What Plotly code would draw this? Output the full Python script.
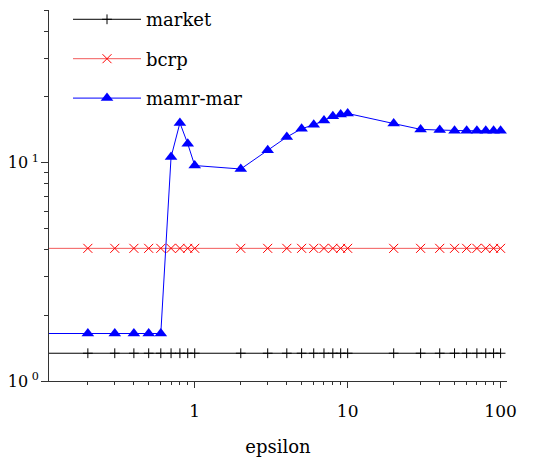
import plotly.graph_objects as go

# epsilon values (0.1 lies just left of the visible axis; its marker is clipped)
epsilon = [0.1, 0.2, 0.3, 0.4, 0.5, 0.6, 0.7, 0.8, 0.9, 1,
           2, 3, 4, 5, 6, 7, 8, 9, 10,
           20, 30, 40, 50, 60, 70, 80, 90, 100]

market = [1.34] * len(epsilon)
bcrp = [4.05] * len(epsilon)
mamr_mar = [1.65, 1.65, 1.65, 1.65, 1.65, 1.65, 10.6, 15.2, 12.2, 9.7,
            9.35, 11.4, 13.1, 14.3, 14.9, 15.6, 16.3, 16.6, 16.8,
            15.1, 14.2, 14.1, 14.0, 14.0, 14.0, 14.0, 14.0, 14.0]

x_major = [1, 10, 100]
x_major_text = ["1", "10", "100"]
x_minor = [0.2, 0.3, 0.4, 0.5, 0.6, 0.7, 0.8, 0.9,
           2, 3, 4, 5, 6, 7, 8, 9, 20, 30, 40, 50, 60, 70, 80, 90]
y_major = [1, 10]
y_major_text = ["10<sup> 0</sup>", "10<sup> 1</sup>"]
y_minor = [2, 3, 4, 5, 6, 7, 8, 9, 20, 30, 40, 50]

FONT = "DejaVu Serif"

fig = go.Figure()
fig.add_trace(go.Scatter(
    x=epsilon, y=market, name="market", mode="lines+markers",
    legendgroup="a",
    line=dict(color="black", width=1),
    marker=dict(symbol="cross-thin", size=7, color="black",
                line=dict(color="black", width=1)),
))
fig.add_trace(go.Scatter(
    x=epsilon, y=bcrp, name="bcrp", mode="lines+markers",
    legendgroup="b",
    line=dict(color="#f25a5a", width=1),
    marker=dict(symbol="x-thin", size=9, color="red",
                line=dict(color="red", width=1)),
))
fig.add_trace(go.Scatter(
    x=epsilon, y=mamr_mar, name="mamr-mar", mode="lines+markers",
    legendgroup="c",
    line=dict(color="#0000ff", width=1),
    marker=dict(symbol="triangle-up", size=11, color="#0000ff",
                line=dict(width=0)),
))

fig.update_layout(
    width=549, height=463,
    margin=dict(l=41, r=50, t=2, b=90, autoexpand=False),
    paper_bgcolor="white", plot_bgcolor="white",
    font=dict(family=FONT, size=17, color="black"),
    showlegend=True,
    legend=dict(x=0.0415, y=1.024, xanchor="left", yanchor="top",
                bgcolor="rgba(0,0,0,0)", font=dict(family=FONT, size=18),
                itemwidth=68, tracegroupgap=13, traceorder="grouped"),
    xaxis=dict(
        type="log", range=[-0.953, 2.042],
        showgrid=False, zeroline=False,
        showline=True, linecolor="#333", linewidth=1,
        tickvals=x_major, ticktext=x_major_text,
        ticks="outside", ticklen=6, tickcolor="#333", tickwidth=1,
        ticklabelstandoff=9,
        minor=dict(tickvals=x_minor, ticks="outside", ticklen=3,
                   tickcolor="#333", tickwidth=1, showgrid=False),
        title=dict(text="epsilon", font=dict(family=FONT, size=18), standoff=19),
        tickfont=dict(family=FONT, size=17),
    ),
    yaxis=dict(
        type="log", range=[0, 1.699],
        showgrid=False, zeroline=False,
        showline=True, linecolor="#333", linewidth=1,
        tickvals=y_major, ticktext=y_major_text,
        ticks="outside", ticklen=7, tickcolor="#333", tickwidth=1,
        ticklabelstandoff=-1,
        minor=dict(tickvals=y_minor, ticks="outside", ticklen=4,
                   tickcolor="#333", tickwidth=1, showgrid=False),
        tickfont=dict(family=FONT, size=16),
    ),
)

fig.write_html("out.html")
